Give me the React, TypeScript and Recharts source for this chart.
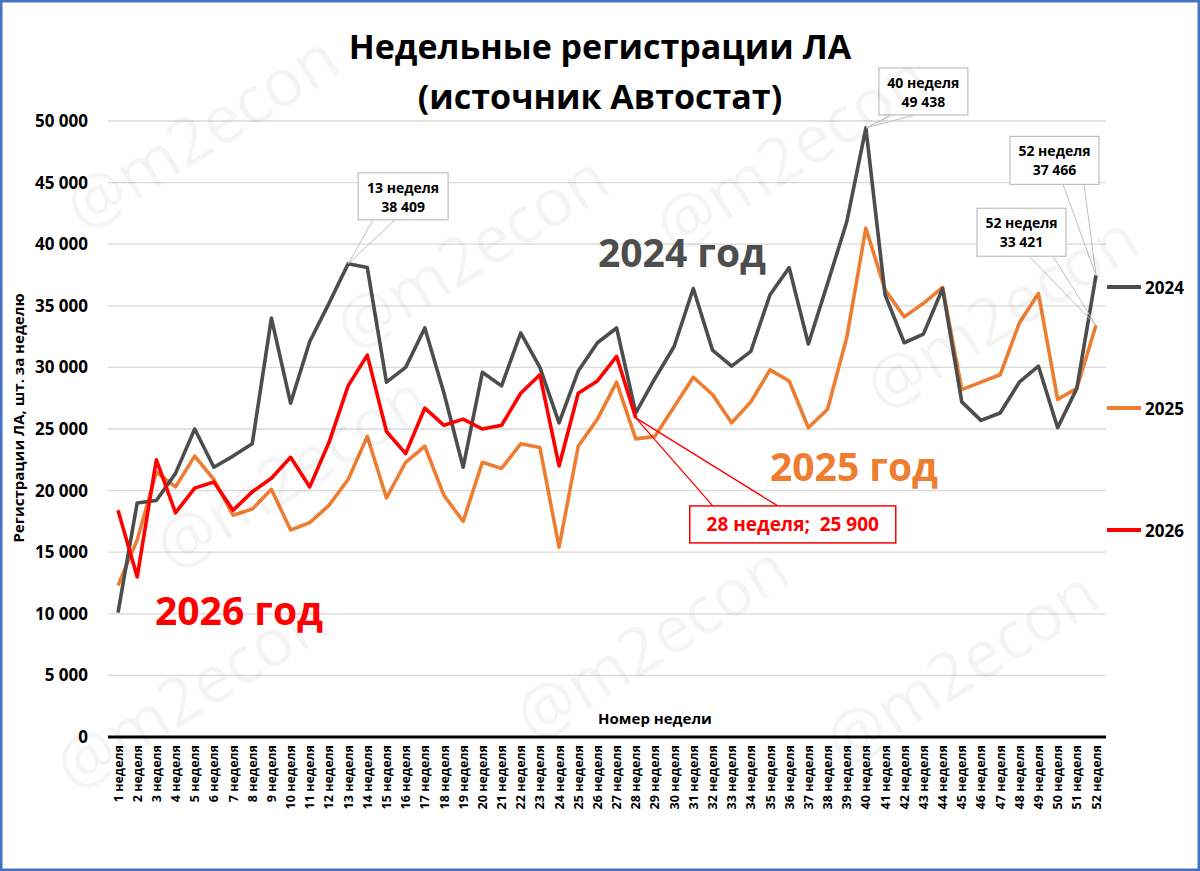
import React from 'react';
import { LineChart, Line, XAxis, YAxis, CartesianGrid, ReferenceDot } from 'recharts';

const weeks: string[] = [
  '1 неделя', '2 неделя', '3 неделя', '4 неделя', '5 неделя', '6 неделя', '7 неделя', '8 неделя',
  '9 неделя', '10 неделя', '11 неделя', '12 неделя', '13 неделя', '14 неделя', '15 неделя', '16 неделя',
  '17 неделя', '18 неделя', '19 неделя', '20 неделя', '21 неделя', '22 неделя', '23 неделя', '24 неделя',
  '25 неделя', '26 неделя', '27 неделя', '28 неделя', '29 неделя', '30 неделя', '31 неделя', '32 неделя',
  '33 неделя', '34 неделя', '35 неделя', '36 неделя', '37 неделя', '38 неделя', '39 неделя', '40 неделя',
  '41 неделя', '42 неделя', '43 неделя', '44 неделя', '45 неделя', '46 неделя', '47 неделя', '48 неделя',
  '49 неделя', '50 неделя', '51 неделя', '52 неделя',
];

const sales2024: number[] = [
  10100, 19000, 19200, 21400, 25000, 21900, 22800, 23800, 34000, 27100,
  32100, 35200, 38409, 38100, 28800, 30000, 33200, 27900, 21900, 29600,
  28500, 32800, 30000, 25500, 29700, 32000, 33200, 26300, 29100, 31700,
  36400, 31400, 30100, 31300, 35900, 38100, 31900, 36800, 41800, 49438,
  35900, 32000, 32700, 36400, 27200, 25700, 26300, 28800, 30100, 25100,
  28300, 37466,
];

const sales2025: number[] = [
  12300, 16000, 21500, 20300, 22800, 20900, 18000, 18500, 20100, 16800,
  17400, 18800, 20900, 24400, 19400, 22300, 23600, 19600, 17500, 22300,
  21800, 23800, 23500, 15400, 23600, 25800, 28800, 24200, 24400, 26800,
  29200, 27800, 25500, 27200, 29800, 28900, 25100, 26600, 32400, 41300,
  36300, 34100, 35200, 36500, 28200, 28800, 29400, 33600, 36000, 27400,
  28300, 33421,
];

const sales2026: number[] = [
  18400, 13000, 22500, 18200, 20200, 20700, 18400, 19900, 21000, 22700,
  20300, 23900, 28500, 31000, 24800, 23000, 26700, 25300, 25800, 25000,
  25300, 27900, 29400, 22000, 27900, 28900, 30900, 25900,
];

const yTicks: number[] = [0, 5000, 10000, 15000, 20000, 25000, 30000, 35000, 40000, 45000, 50000];

const data = weeks.map((w, i) => ({
  week: w,
  y2024: sales2024[i],
  y2025: sales2025[i],
  y2026: i < sales2026.length ? sales2026[i] : null,
}));

const FONT = "'Open Sans', 'Noto Sans', 'DejaVu Sans', sans-serif";
const C2024 = '#4D4D4D';
const C2025 = '#ED7D31';
const C2026 = '#FF0000';

const fmt = (v: number) => (v === 0 ? '0' : `${Math.round(v / 1000)} 000`);

const WeekTick = (props: any) => {
  const { x, y, payload } = props;
  return (
    <text
      x={x}
      y={y}
      transform={`rotate(-90 ${x} ${y})`}
      textAnchor="end"
      dominantBaseline="central"
      fontSize={12.5}
      fontWeight={700}
      fontFamily={FONT}
      fill="#000"
    >
      {payload.value}
    </text>
  );
};

type CalloutOpts = {
  dx: number;
  dy: number;
  w: number;
  h: number;
  a1: number;
  a2: number;
  fromTop?: boolean;
  lines: string[];
  color: string;
  border: string;
  fontSize: number;
};

const makeCallout = (o: CalloutOpts) => (p: any) => {
  const cx = p.cx;
  const cy = p.cy;
  if (cx == null || cy == null) return <g />;
  const bx = cx + o.dx;
  const by = cy + o.dy;
  const baseY = o.fromTop ? by : by + o.h;
  const n = o.lines.length;
  const lineYs = n === 1 ? [by + o.h / 2] : [by + 14.5, by + 33.5];
  return (
    <g>
      <line x1={bx + o.a1} y1={baseY} x2={cx} y2={cy} stroke={o.border} strokeWidth={o.fromTop ? 1.3 : 1} />
      <line x1={bx + o.a2} y1={baseY} x2={cx} y2={cy} stroke={o.border} strokeWidth={o.fromTop ? 1.3 : 1} />
      <rect x={bx} y={by} width={o.w} height={o.h} fill="#fff" stroke={o.border} strokeWidth={o.fromTop ? 1.5 : 1.2} />
      {o.lines.map((t, i) => (
        <text
          key={i}
          x={bx + o.w / 2}
          y={lineYs[i]}
          textAnchor="middle"
          dominantBaseline="central"
          fontSize={o.fontSize}
          fontWeight={700}
          fontFamily={FONT}
          fill={o.color}
          style={{ whiteSpace: 'pre' }}
        >
          {t}
        </text>
      ))}
    </g>
  );
};

const watermarks: [number, number][] = [
  [200, 130], [470, 250], [290, 470], [650, 640], [790, 150], [1000, 310], [960, 665], [190, 690],
];

export default function App() {
  return (
    <div style={{ position: 'absolute', left: 0, top: 0, width: 1200, height: 871, background: '#fff', fontFamily: FONT }}>
      <LineChart
        width={1200}
        height={871}
        data={data}
        margin={{ top: 121, right: 94, bottom: 0, left: 0 }}
      >
        <CartesianGrid horizontal vertical={false} stroke="#d9d9d9" strokeWidth={1.3} />
        <XAxis
          dataKey="week"
          interval={0}
          height={134}
          padding={{ left: 10, right: 10 }}
          axisLine={{ stroke: '#000', strokeWidth: 3 }}
          tickLine={false}
          tickSize={6}
          tickMargin={2}
          tick={<WeekTick />}
        />
        <YAxis
          domain={[0, 50000]}
          ticks={yTicks}
          width={108}
          axisLine={false}
          tickLine={false}
          tickMargin={14}
          tickFormatter={fmt}
          tick={{ fontSize: 17, fontWeight: 700, fill: '#000', fontFamily: FONT }}
        />
        <Line type="linear" dataKey="y2025" stroke={C2025} strokeWidth={3.6} dot={false} isAnimationActive={false} strokeLinejoin="round" />
        <Line type="linear" dataKey="y2024" stroke={C2024} strokeWidth={3.6} dot={false} isAnimationActive={false} strokeLinejoin="round" />
        <Line type="linear" dataKey="y2026" stroke={C2026} strokeWidth={3.6} dot={false} isAnimationActive={false} strokeLinejoin="round" connectNulls={false} />
        <ReferenceDot
          x={weeks[12]}
          y={sales2024[12]}
          r={0}
          ifOverflow="visible"
          shape={makeCallout({ dx: 10, dy: -91, w: 90, h: 47, a1: 15, a2: 37, lines: ['13 неделя', '38 409'], color: '#000', border: '#bfbfbf', fontSize: 14 })}
        />
        <ReferenceDot
          x={weeks[39]}
          y={sales2024[39]}
          r={0}
          ifOverflow="visible"
          shape={makeCallout({ dx: 13, dy: -60, w: 89, h: 47, a1: 13, a2: 36, lines: ['40 неделя', '49 438'], color: '#000', border: '#bfbfbf', fontSize: 14 })}
        />
        <ReferenceDot
          x={weeks[51]}
          y={sales2024[51]}
          r={0}
          ifOverflow="visible"
          shape={makeCallout({ dx: -86, dy: -139, w: 89, h: 48, a1: 53, a2: 74, lines: ['52 неделя', '37 466'], color: '#000', border: '#bfbfbf', fontSize: 14 })}
        />
        <ReferenceDot
          x={weeks[51]}
          y={sales2025[51]}
          r={0}
          ifOverflow="visible"
          shape={makeCallout({ dx: -119, dy: -117, w: 89, h: 48, a1: 52, a2: 76, lines: ['52 неделя', '33 421'], color: '#000', border: '#bfbfbf', fontSize: 14 })}
        />
        <ReferenceDot
          x={weeks[27]}
          y={sales2026[27]}
          r={0}
          ifOverflow="visible"
          shape={makeCallout({ dx: 54, dy: 88, w: 206, h: 37, a1: 23, a2: 88, fromTop: true, lines: ['28 неделя;  25 900'], color: C2026, border: C2026, fontSize: 19 })}
        />
      </LineChart>

      <svg
        width={1200}
        height={871}
        style={{ position: 'absolute', left: 0, top: 0, pointerEvents: 'none' }}
        fontFamily={FONT}
      >
        {watermarks.map(([x, y], i) => (
          <text
            key={i}
            x={x}
            y={y}
            transform={`rotate(-32 ${x} ${y})`}
            textAnchor="middle"
            dominantBaseline="central"
            fontSize={66}
            fill="#000"
            fillOpacity={0.045}
          >
            @m2econ
          </text>
        ))}
        <rect x={1.25} y={1.25} width={1197.5} height={868.5} fill="none" stroke="#4472C4" strokeWidth={2.5} />
        <text x={600} y={46} textAnchor="middle" dominantBaseline="central" fontSize={34} fontWeight={700} fill="#000">
          Недельные регистрации ЛА
        </text>
        <text x={600} y={96} textAnchor="middle" dominantBaseline="central" fontSize={34} fontWeight={700} fill="#000">
          (источник Автостат)
        </text>
        <text
          x={18}
          y={418}
          transform="rotate(-90 18 418)"
          textAnchor="middle"
          dominantBaseline="central"
          fontSize={15}
          fontWeight={700}
          fill="#000"
        >
          Регистрации ЛА, шт. за неделю
        </text>
        <text x={655} y={718} textAnchor="middle" dominantBaseline="central" fontSize={15} fontWeight={700} fill="#000">
          Номер недели
        </text>
        <text x={598} y={251} dominantBaseline="central" fontSize={39} fontWeight={700} fill={C2024}>
          2024 год
        </text>
        <text x={770} y={465} dominantBaseline="central" fontSize={39} fontWeight={700} fill={C2025}>
          2025 год
        </text>
        <text x={155} y={609} dominantBaseline="central" fontSize={39} fontWeight={700} fill={C2026}>
          2026 год
        </text>
        {[
          { label: '2024', color: C2024, y: 287 },
          { label: '2025', color: C2025, y: 408 },
          { label: '2026', color: C2026, y: 530 },
        ].map((it) => (
          <g key={it.label}>
            <line x1={1107} y1={it.y} x2={1141} y2={it.y} stroke={it.color} strokeWidth={4} />
            <text x={1145} y={it.y} dominantBaseline="central" fontSize={17} fontWeight={700} fill="#000">
              {it.label}
            </text>
          </g>
        ))}
      </svg>
    </div>
  );
}
